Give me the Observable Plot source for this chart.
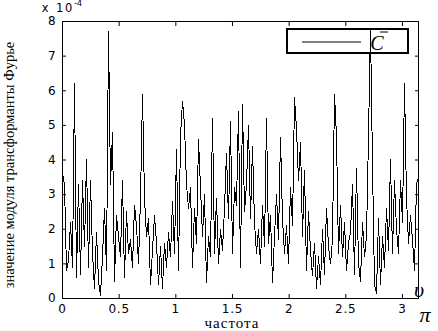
<!DOCTYPE html>
<html><head><meta charset="utf-8">
<script src="https://cdn.jsdelivr.net/npm/d3@7"></script>
<script src="https://cdn.jsdelivr.net/npm/@observablehq/plot@0.6"></script>
<style>body{margin:0;background:#fff}#c{position:relative;width:438px;height:331px}</style>
</head><body><div id="c"></div>
<script>
// magnitude in units of 1e-4
const magnitude = [
3.6,3.3,0.8,1.1,2.2,0.9,6.2,0.6,3.3,0.7,
3.4,1.5,4.0,0.9,3.4,1.3,0.3,1.9,0.5,0.1,
1.2,2.6,0.8,7.7,3.3,4.8,0.5,2.4,1.8,1.2,
3.4,0.6,2.5,1.3,1.7,0.9,2.7,2.1,1.0,2.9,
5.9,2.9,1.8,2.3,0.4,1.4,2.4,1.6,0.4,1.5,
0.3,1.6,0.9,1.9,1.2,2.8,1.3,4.3,0.8,4.7,
5.7,5.0,3.3,2.6,3.2,0.9,2.6,1.6,4.6,3.2,
1.8,3.0,0.45,1.8,1.2,5.2,1.3,2.9,1.0,2.0,
1.4,2.6,4.2,2.3,5.1,1.3,3.2,2.7,5.4,0.9,
5.6,2.5,3.3,5.0,2.3,4.4,2.2,1.3,2.0,1.0,
2.7,1.5,5.2,1.6,2.4,0.45,1.8,3.0,1.7,4.65,
2.3,1.3,2.1,1.0,3.2,2.1,5.8,4.9,3.4,4.5,
1.8,3.7,0.8,2.5,1.4,0.65,1.6,0.3,1.2,0.4,
2.0,0.7,2.6,1.5,1.0,1.7,5.9,4.7,1.3,2.7,
1.2,2.2,0.8,1.6,1.9,3.3,0.7,3.75,1.0,0.5,
2.2,1.2,1.8,4.7,7.8,3.85,0.4,0.15,2.3,0.4,
1.8,0.9,2.6,1.4,4.0,1.3,3.4,2.0,1.3,3.4,
2.2,6.2,2.9,1.6,2.4,1.7,0.8,3.3,3.5
];
const freq = magnitude.map((_, i) => i * Math.PI / (magnitude.length - 1));
const xTicks = [0, 0.5, 1, 1.5, 2, 2.5, 3];
const xTickLabels = ["0", "0.5", "1", "1.5", "2", "2.5", "3"];
const yTicks = [0, 1, 2, 3, 4, 5, 6, 7, 8];
const yTickLabels = ["0", "1", "2", "3", "4", "5", "6", "7", "8"];
const seriesName = "C";
const yTitle = "значение модуля трансформанты Фурье";
const xTitle = "частота";

const data = magnitude.map((v, i) => ({x: freq[i], y: v}));
const sans = "DejaVu Sans";
const noText = () => "";
const chart = Plot.plot({
  width: 438, height: 331,
  marginLeft: 62, marginRight: 20, marginTop: 21, marginBottom: 33,
  x: {domain: [0, Math.PI]},
  y: {domain: [0, 8]},
  style: {fontFamily: sans, fontSize: "12px", color: "#000", background: "#fff", overflow: "visible"},
  marks: [
    Plot.line(data, {x: "x", y: "y", stroke: "#000", strokeWidth: 1, shapeRendering: "crispEdges"}),
    Plot.frame({stroke: "#000", strokeWidth: 1, shapeRendering: "crispEdges"}),
    Plot.axisX({anchor: "bottom", ticks: xTicks, tickSize: 4, dy: -4, tickFormat: noText, label: null, stroke: "#000"}),
    Plot.axisX({anchor: "top", ticks: xTicks, tickSize: 4, dy: 4, tickFormat: noText, label: null, stroke: "#000"}),
    Plot.axisY({anchor: "left", ticks: yTicks, tickSize: 4, dx: 4, tickFormat: noText, label: null, stroke: "#000"}),
    Plot.axisY({anchor: "right", ticks: yTicks, tickSize: 4, dx: -4, tickFormat: noText, label: null, stroke: "#000"}),
    Plot.axisX({anchor: "bottom", ticks: xTicks, tickSize: 0, tickPadding: 6, label: null,
      tickFormat: d => xTickLabels[xTicks.indexOf(d)], fill: "#000", fontSize: 12}),
    Plot.axisY({anchor: "left", ticks: yTicks, tickSize: 0, tickPadding: 6, label: null,
      tickFormat: d => yTickLabels[yTicks.indexOf(d)], fill: "#000", fontSize: 12})
  ]
});
document.getElementById("c").appendChild(chart);
const svg = d3.select(chart);
svg.selectAll("g[aria-label$='tick label'] text").attr("letter-spacing", "0.8px");

// exponent
const ex = svg.append("text").attr("x", 62).attr("y", 12).attr("font-family", sans).attr("font-size", 11.5).attr("letter-spacing", "1.8px").attr("fill", "#000");
ex.append("tspan").text("x 10");
ex.append("tspan").attr("dy", -6).attr("font-size", 8).attr("letter-spacing", "0px").text("-4");

// axis titles
svg.append("text").attr("transform", "translate(14,165) rotate(-90)").attr("text-anchor", "middle")
  .attr("font-family", "Liberation Serif").attr("font-size", 14.5).attr("fill", "#000").text(yTitle);
svg.append("text").attr("x", 232).attr("y", 328).attr("text-anchor", "middle")
  .attr("font-family", "Liberation Serif").attr("font-size", 15).attr("letter-spacing", "1px").attr("fill", "#000").text(xTitle);
svg.append("text").attr("x", 419).attr("y", 297).attr("font-family", "Liberation Serif").attr("font-style", "italic")
  .attr("font-size", 22).attr("fill", "#000").text("υ");
svg.append("text").attr("x", 425).attr("y", 322).attr("font-family", "Liberation Serif").attr("font-style", "italic")
  .attr("font-size", 22).attr("fill", "#000").text("π");

// legend
const lg = svg.append("g");
lg.append("rect").attr("x", 287).attr("y", 29).attr("width", 121).attr("height", 24)
  .attr("fill", "none").attr("stroke", "#000").attr("stroke-width", 2);
lg.append("line").attr("x1", 302).attr("x2", 361).attr("y1", 42).attr("y2", 42).attr("stroke", "#000");
lg.append("text").attr("x", 377).attr("y", 50).attr("font-family", "Liberation Serif").attr("font-style", "italic")
  .attr("font-size", 20).attr("fill", "#000").text(seriesName);
lg.append("line").attr("x1", 380).attr("x2", 388).attr("y1", 32).attr("y2", 32).attr("stroke", "#000");
</script></body></html>
